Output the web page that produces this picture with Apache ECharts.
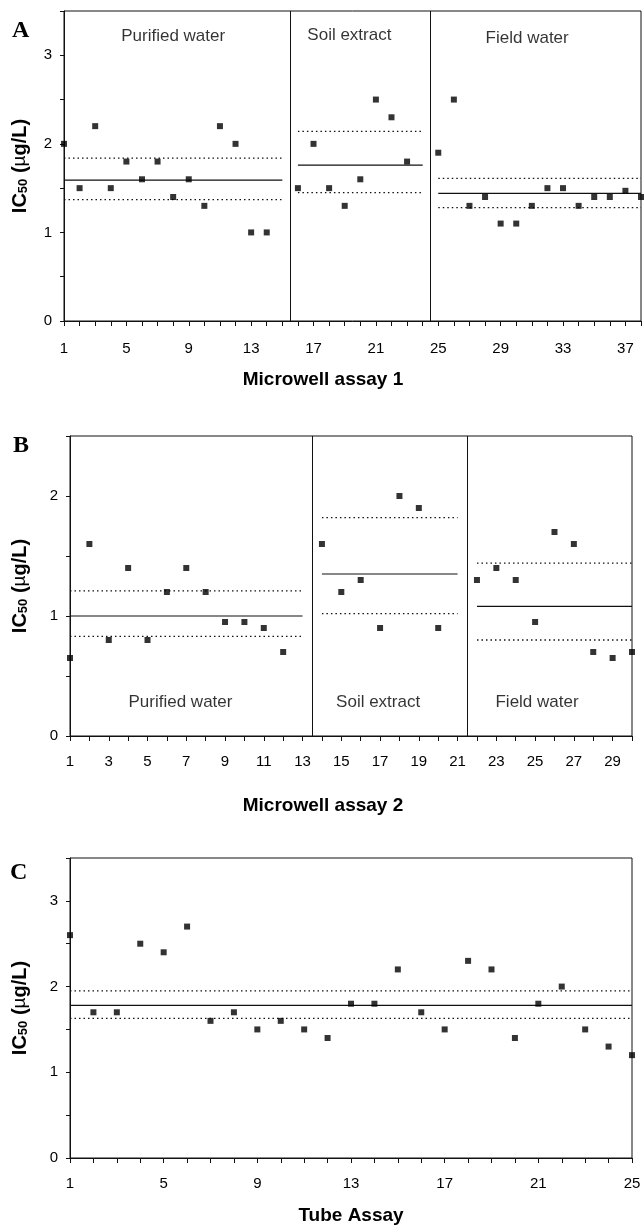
<!DOCTYPE html>
<html>
<head>
<meta charset="utf-8">
<script src="https://cdn.jsdelivr.net/npm/echarts@6/dist/echarts.min.js"></script>
<style>
html,body{margin:0;padding:0;background:#fff;}
#chart{width:644px;height:1228px;}
</style>
</head>
<body>
<div id="chart"></div>
<script>
// ---------- DATA ----------
// Panel A: Microwell assay 1
const A_x = [1,2,3,4,5,6,7,8,9,10,11,12,13,14, 16,17,18,19,20,21,22,23, 25,26,27,28,29,30,31,32,33,34,35,36,37,38];
const A_y = [2.0,1.5,2.2,1.5,1.8,1.6,1.8,1.4,1.6,1.3,2.2,2.0,1.0,1.0, 1.5,2.0,1.5,1.3,1.6,2.5,2.3,1.8, 1.9,2.5,1.3,1.4,1.1,1.1,1.3,1.5,1.5,1.3,1.4,1.4,1.47,1.4];
const A_start = [1,16,25];
const A_end = [15,24,38];
const A_mean = [1.59,1.76,1.44];
const A_upper = [1.84,2.14,1.61];
const A_lower = [1.37,1.45,1.28];
const A_dividers = [15.5,24.5];
const A_groups = ['Purified water','Soil extract','Field water'];
const A_yTicks = [0,1,2,3];

// Panel B: Microwell assay 2
const B_x = [1,2,3,4,5,6,7,8,9,10,11,12, 14,15,16,17,18,19,20, 22,23,24,25,26,27,28,29,30];
const B_y = [0.65,1.6,0.8,1.4,0.8,1.2,1.4,1.2,0.95,0.95,0.9,0.7, 1.6,1.2,1.3,0.9,2.0,1.9,0.9, 1.3,1.4,1.3,0.95,1.7,1.6,0.7,0.65,0.7];
const B_start = [1,14,22];
const B_end = [13,21,30];
const B_mean = [1.0,1.35,1.08];
const B_upper = [1.21,1.82,1.44];
const B_lower = [0.83,1.02,0.80];
const B_dividers = [13.5,21.5];
const B_groups = ['Purified water','Soil extract','Field water'];
const B_yTicks = [0,1,2];

// Panel C: Tube assay
const C_x = [1,2,3,4,5,6,7,8,9,10,11,12,13,14,15,16,17,18,19,20,21,22,23,24,25];
const C_y = [2.6,1.7,1.7,2.5,2.4,2.7,1.6,1.7,1.5,1.6,1.5,1.4,1.8,1.8,2.2,1.7,1.5,2.3,2.2,1.4,1.8,2.0,1.5,1.3,1.2];
const C_start = [1];
const C_end = [25];
const C_mean = [1.78];
const C_upper = [1.95];
const C_lower = [1.63];
const C_dividers = [];
const C_groups = [];
const C_yTicks = [0,1,2,3];

// ---------- LAYOUT ----------
const FONT = '"Liberation Sans", Arial, sans-serif';
const panels = [
  {letter:'A', letterPos:[12,31], title:'Microwell assay 1', titlePos:[323,380],
   grid:{left:64, top:11, width:577, height:310}, xMin:1, xMax:38, xLabelStep:4, yMax:3.5, labelMargin:20, nameGap:34,
   x:A_x, y:A_y, start:A_start, end:A_end, mean:A_mean, upper:A_upper, lower:A_lower, dividers:A_dividers,
   groups:A_groups, groupLabelPos:[[8.0,3.21],[19.3,3.23],[30.7,3.19]], yTicks:A_yTicks},
  {letter:'B', letterPos:[13,446], title:'Microwell assay 2', titlePos:[323,806],
   grid:{left:70, top:436, width:562, height:300}, xMin:1, xMax:30, xLabelStep:2, yMax:2.5, labelMargin:18, nameGap:40,
   x:B_x, y:B_y, start:B_start, end:B_end, mean:B_mean, upper:B_upper, lower:B_lower, dividers:B_dividers,
   groups:B_groups, groupLabelPos:[[6.7,0.28],[16.9,0.28],[25.1,0.28]], yTicks:B_yTicks},
  {letter:'C', letterPos:[10,873], title:'Tube Assay', titlePos:[351,1216],
   grid:{left:70, top:858, width:562, height:300}, xMin:1, xMax:25, xLabelStep:4, yMax:3.5, labelMargin:18, nameGap:40,
   x:C_x, y:C_y, start:C_start, end:C_end, mean:C_mean, upper:C_upper, lower:C_lower, dividers:C_dividers,
   groups:C_groups, groupLabelPos:[], yTicks:C_yTicks}
];

const grids = [], xAxes = [], yAxes = [], series = [], graphics = [];
const INK = '#111';

panels.forEach((p, i) => {
  grids.push(Object.assign({show:true, borderColor:INK, borderWidth:1, backgroundColor:'transparent'}, p.grid));
  xAxes.push({
    type:'value', gridIndex:i, min:p.xMin, max:p.xMax, interval:1,
    axisLine:{show:true, onZero:false, lineStyle:{color:INK, width:1}},
    axisTick:{show:true, length:5, lineStyle:{color:INK}},
    splitLine:{show:false},
    axisLabel:{color:'#000', fontFamily:FONT, fontSize:15, margin:p.labelMargin,
      formatter:(v)=> ((v - p.xMin) % p.xLabelStep === 0 ? String(v) : '')}
  });
  yAxes.push({
    type:'value', gridIndex:i, min:0, max:p.yMax, interval:0.5,
    name:'{a|IC}{s|50}{a| (}{m|µ}{a|g/L)}', nameLocation:'middle', nameGap:p.nameGap, nameRotate:90,
    nameTextStyle:{rich:{
      a:{fontFamily:FONT, fontWeight:'bold', fontSize:20, color:'#000'},
      m:{fontFamily:FONT, fontWeight:'normal', fontSize:19, color:'#000'},
      s:{fontFamily:FONT, fontWeight:'bold', fontSize:13, color:'#000', padding:[7,0,0,0]}
    }},
    axisLine:{show:true, onZero:false, lineStyle:{color:INK, width:1}},
    axisTick:{show:true, length:4, lineStyle:{color:INK}},
    splitLine:{show:false},
    axisLabel:{color:'#000', fontFamily:FONT, fontSize:15, margin:12,
      formatter:(v)=> (p.yTicks.indexOf(v) >= 0 ? String(v) : '')}
  });

  // data points
  series.push({
    type:'scatter', xAxisIndex:i, yAxisIndex:i, clip:false,
    symbol:'rect', symbolSize:6, itemStyle:{color:'#000'},
    data:p.x.map((xv, k) => [xv, p.y[k]]),
    markLine: p.dividers.length ? {
      silent:true, symbol:['none','none'], label:{show:false},
      lineStyle:{color:INK, width:1, type:'solid'},
      data:p.dividers.map(d => ({xAxis:d}))
    } : undefined,
    z:5
  });

  // mean and limit lines per group
  p.start.forEach((s, g) => {
    const e = p.end[g];
    [[p.mean[g],'solid',1.2],[p.upper[g],[1.5,3],1.3],[p.lower[g],[1.5,3],1.3]].forEach(([val, type, w]) => {
      series.push({
        type:'line', xAxisIndex:i, yAxisIndex:i, symbol:'none', silent:true,
        lineStyle:{color:INK, width:w, type:type},
        data:[[s, val],[e, val]], z:3
      });
    });
  });

  // group labels
  if (p.groups.length) {
    series.push({
      type:'scatter', xAxisIndex:i, yAxisIndex:i, symbolSize:0, silent:true, clip:false,
      label:{show:true, position:'inside', formatter:'{b}', color:'#000', fontFamily:FONT, fontSize:17},
      data:p.groups.map((name, g) => ({name:name, value:p.groupLabelPos[g]}))
    });
  }

  // panel letter
  graphics.push({type:'text', x:p.letterPos[0], y:p.letterPos[1],
    style:{text:p.letter, font:'bold 24px "Liberation Serif", "Times New Roman", serif', fill:'#000', textVerticalAlign:'middle'}});
  // x title
  graphics.push({type:'text', x:p.titlePos[0], y:p.titlePos[1],
    style:{text:p.title, font:'bold 19px ' + FONT, fill:'#000', textAlign:'center', textVerticalAlign:'middle'}});
});

const chart = echarts.init(document.getElementById('chart'), null, {renderer:'canvas'});
chart.setOption({
  animation:false,
  backgroundColor:'#fff',
  grid:grids, xAxis:xAxes, yAxis:yAxes, series:series, graphic:graphics
});
</script>
</body>
</html>
